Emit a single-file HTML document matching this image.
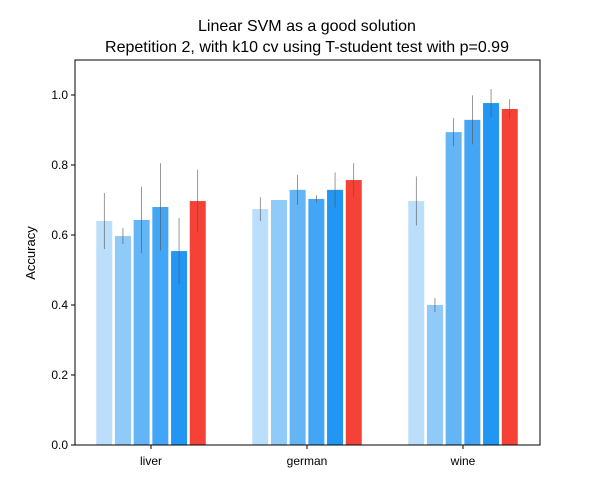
<!DOCTYPE html>
<html><head><meta charset="utf-8"><style>body{margin:0;background:#fff}svg{display:block;font-family:"Liberation Sans","DejaVu Sans",sans-serif}</style></head>
<body>
<svg id="chart" width="600" height="500"></svg>
<script>
const categories = ["liver", "german", "wine"];
const series1 = [0.640, 0.674, 0.697];
const series2 = [0.597, 0.700, 0.400];
const series3 = [0.643, 0.729, 0.894];
const series4 = [0.680, 0.703, 0.929];
const series5 = [0.554, 0.729, 0.977];
const series6 = [0.697, 0.757, 0.960];
const err1 = [0.080, 0.034, 0.070];
const err2 = [0.023, 0.000, 0.020];
const err3 = [0.095, 0.043, 0.040];
const err4 = [0.125, 0.011, 0.070];
const err5 = [0.095, 0.050, 0.040];
const err6 = [0.090, 0.048, 0.028];
const yTicks = [0.0, 0.2, 0.4, 0.6, 0.8, 1.0];
const series = [series1, series2, series3, series4, series5, series6];
const errs = [err1, err2, err3, err4, err5, err6];
const colors = ["#bbdefb", "#90caf9", "#64b5f6", "#42a5f5", "#2196f3", "#f44336"];
const NS = "http://www.w3.org/2000/svg";
const svg = document.getElementById("chart");
const L = 75, R = 540, T = 60, B = 445, YMAX = 1.1;
const y = v => B - v / YMAX * (B - T);
const groupCenter = i => 151 + i * 156;
const step = 18.7, bw = 16;
function mk(tag, attrs, parent) { const e = document.createElementNS(NS, tag); for (const k in attrs) e.setAttribute(k, attrs[k]); (parent || svg).appendChild(e); return e; }
let t = mk("text", {x: 307, y: 31, "text-anchor": "middle", "font-size": 16});
t.textContent = "Linear SVM as a good solution";


t = mk("text", {x: 307, y: 52, "text-anchor": "middle", "font-size": 16});
t.textContent = "Repetition 2, with k10 cv using T-student test with p=0.99";


series.forEach((s, si) => {
  s.forEach((v, ci) => {
    const cx = groupCenter(ci) + (si - 2.5) * step;
    const r = mk("rect", {x: cx - bw / 2, y: y(v), width: bw, height: B - y(v), fill: colors[si]});
    
    
    const e = errs[si][ci];
    if (e > 0) {
      const l = mk("line", {x1: cx, x2: cx, y1: y(v + e), y2: y(v - e), stroke: "#555", "stroke-width": 0.6});
      
      
    }
  });
});
const ax = mk("rect", {x: L, y: T, width: R - L, height: B - T, fill: "none", stroke: "#000", "stroke-width": 1});


yTicks.forEach(v => {
  mk("line", {x1: L - 4, x2: L, y1: y(v), y2: y(v), stroke: "#000"});
  const tx = mk("text", {x: L - 7, y: y(v) + 4, "text-anchor": "end", "font-size": 12});
  tx.textContent = v.toFixed(1);
  
  
});
categories.forEach((c, i) => {
  mk("line", {x1: groupCenter(i), x2: groupCenter(i), y1: B, y2: B + 4, stroke: "#000"});
  const tx = mk("text", {x: groupCenter(i), y: B + 20, "text-anchor": "middle", "font-size": 12});
  tx.textContent = c;
  
  
});
const yl = mk("text", {x: 35, y: 253, "text-anchor": "middle", "font-size": 13, transform: "rotate(-90 35 253)"});
yl.textContent = "Accuracy";


</script>
</body></html>
